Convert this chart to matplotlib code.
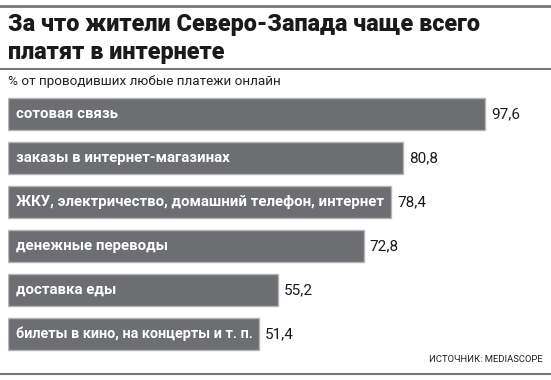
import matplotlib.pyplot as plt
from matplotlib.lines import Line2D

categories = ['сотовая связь', 'заказы в интернет-магазинах',
              'ЖКУ, электричество, домашний телефон, интернет',
              'денежные переводы', 'доставка еды',
              'билеты в кино, на концерты и т. п.']
values = [97.6, 80.8, 78.4, 72.8, 55.2, 51.4]
labels = ['97,6', '80,8', '78,4', '72,8', '55,2', '51,4']

W, H = 551, 380
fig = plt.figure(figsize=(W / 100, H / 100), dpi=100)
fig.patch.set_facecolor('white')

def px(x, y):
    return x / W, 1 - y / H

# rules
for y, lw in [(6, 2.0), (69, 1.5), (374, 1.5)]:
    fig.add_artist(Line2D([0, 1], [1 - y / H] * 2, color='#777777', lw=lw))

fig.text(*px(8, 25), 'За что жители Северо-Запада чаще всего', fontsize=16.8,
         fontweight=900, family='Roboto', color='#1a1a1a', va='center')
fig.text(*px(8, 53), 'платят в интернете', fontsize=16.8,
         fontweight=900, family='Roboto', color='#1a1a1a', va='center')
fig.text(*px(8, 82), '% от проводивших любые платежи онлайн', fontsize=9.7,
         family='Roboto', color='#222222', va='center')
fig.text(*px(543, 360), 'ИСТОЧНИК: MEDIASCOPE', fontsize=6.8, family='Roboto',
         color='#222222', ha='right', va='center')

# bars: axes spans x 8..551 px, y 92..356 px
ax = fig.add_axes([8 / W, 1 - 356 / H, (W - 8) / W, 264 / H])
scale = 4.89
ax.set_xlim(0, (W - 8) / scale)
ax.set_ylim(5.5, -0.5)
ax.axis('off')
ypos = range(len(categories))
ax.barh(ypos, values, height=32 / 44, color='#6d6e71', edgecolor='#b5b5b7', lw=1)

fig.canvas.draw()
renderer = fig.canvas.get_renderer()
for y, v, c, l in zip(ypos, values, categories, labels):
    t = ax.text(1.6, y, c, color='white', fontsize=10.8, fontweight='bold',
                family='Roboto', va='center', ha='left')
    # shrink the label if it does not fit inside its bar
    avail = (v - 2.6) * scale
    fs = 10.8
    while t.get_window_extent(renderer).width > avail and fs > 7:
        fs -= 0.2
        t.set_fontsize(fs)
    ax.text(v + 1.2, y, l, color='#1a1a1a', fontsize=11, family='Roboto',
            va='center', ha='left')

fig.savefig('out.png', dpi=100)
